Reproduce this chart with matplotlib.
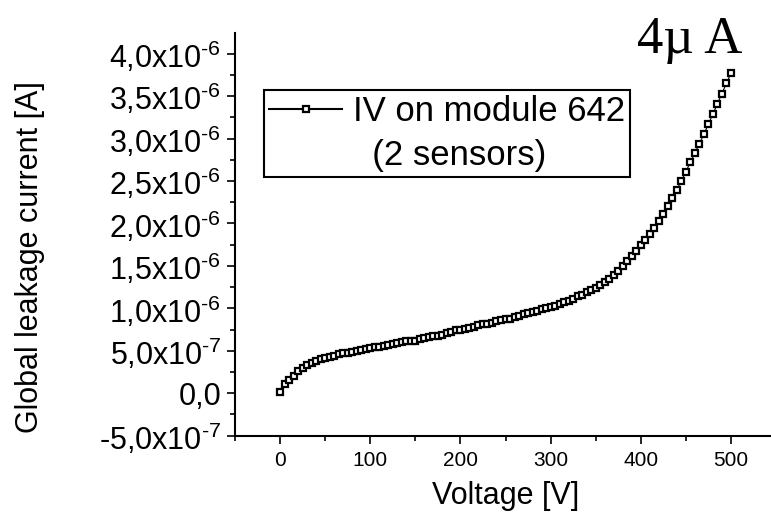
import matplotlib.pyplot as plt
import numpy as np
from matplotlib.ticker import MultipleLocator, FuncFormatter

plt.rcParams['font.family'] = ['Liberation Sans', 'DejaVu Sans']
plt.rcParams['mathtext.fontset'] = 'custom'
plt.rcParams['mathtext.rm'] = 'Liberation Sans'
plt.rcParams['mathtext.default'] = 'regular'
plt.rcParams['axes.unicode_minus'] = False

# voltage sweep in 5 V steps
voltage = list(range(0, 505, 5))
# leakage current in uA
current_uA = [
    0.02, 0.11, 0.16, 0.20, 0.26, 0.30, 0.33, 0.36, 0.38, 0.40,
    0.41, 0.43, 0.44, 0.46, 0.47, 0.48, 0.49, 0.50, 0.51, 0.52,
    0.53, 0.54, 0.55, 0.56, 0.57, 0.58, 0.59, 0.60, 0.61, 0.61,
    0.62, 0.64, 0.65, 0.66, 0.67, 0.68, 0.69, 0.71, 0.72, 0.74,
    0.75, 0.76, 0.77, 0.78, 0.80, 0.81, 0.82, 0.83, 0.85, 0.86,
    0.87, 0.88, 0.90, 0.91, 0.93, 0.94, 0.96, 0.97, 0.99, 1.00,
    1.02, 1.03, 1.05, 1.07, 1.09, 1.11, 1.14, 1.16, 1.19, 1.22,
    1.24, 1.27, 1.31, 1.35, 1.39, 1.44, 1.50, 1.56, 1.62, 1.68,
    1.75, 1.81, 1.88, 1.95, 2.03, 2.11, 2.20, 2.30, 2.40, 2.50,
    2.61, 2.72, 2.83, 2.94, 3.05, 3.17, 3.29, 3.41, 3.53, 3.65,
    3.77,
]
current = np.array(current_uA) * 1e-6
label_line1 = "IV on module 642"
label_line2 = "  (2 sensors)"


def sci_comma(v, pos):
    if abs(v) < 1e-12:
        return "0,0"
    e = int(np.floor(np.log10(abs(v))))
    m = v / 10 ** e
    # hyphen (U+2010) so the exponent sign stays short like the original
    return ("%.1f" % m).replace(".", ",") + "x10$^{\u2010%d}$" % abs(e)


fig = plt.figure(figsize=(7.71, 5.20), dpi=100)
ax = fig.add_axes([235 / 771, 84.3 / 520, 541 / 771, 402.4 / 520])

line, = ax.plot(voltage, current, '-', color='black', lw=0.8,
                marker='s', ms=5, mfc='white', mec='black', mew=1.6)

ax.set_xlim(-50, 550)
ax.set_ylim(-5e-7, 4.24e-6)
ax.xaxis.set_major_locator(MultipleLocator(100))
ax.xaxis.set_minor_locator(MultipleLocator(50))
ax.yaxis.set_major_locator(MultipleLocator(5e-7))
ax.yaxis.set_minor_locator(MultipleLocator(2.5e-7))
ax.yaxis.set_major_formatter(FuncFormatter(sci_comma))

for s in ['top', 'right']:
    ax.spines[s].set_visible(False)
for s in ['left', 'bottom']:
    ax.spines[s].set_linewidth(1.5)

ax.tick_params(which='major', direction='out', length=5.8, width=1.2)
ax.tick_params(which='minor', direction='out', length=3.6, width=1.2)
ax.tick_params(axis='y', which='major', labelsize=22, pad=4)
ax.tick_params(axis='x', which='major', labelsize=15, pad=5)

ax.set_xlabel("Voltage [V]", fontsize=22, labelpad=8)
ax.set_ylabel("Global leakage current [A]", fontsize=22)
ax.yaxis.set_label_coords(-0.351, 0.445)

blank = plt.Line2D([], [], linestyle='none')
leg = fig.legend([line, blank], [label_line1, label_line2],
                 loc='upper left', bbox_to_anchor=(264 / 771, 1 - 90 / 520),
                 bbox_transform=fig.transFigure, fontsize=25,
                 frameon=True, fancybox=False, edgecolor='black',
                 framealpha=1, borderpad=0.15, borderaxespad=0,
                 handlelength=2.1, handletextpad=0.3, labelspacing=0.3)
leg.get_frame().set_linewidth(1.5)
leg.get_lines()[0].set_linewidth(1.5)

fig.text(637 / 771, 1 - 53 / 520, "4µ\u2009A", family='Liberation Serif',
         fontsize=38, ha='left', va='baseline')

fig.savefig("out.png", dpi=100)
